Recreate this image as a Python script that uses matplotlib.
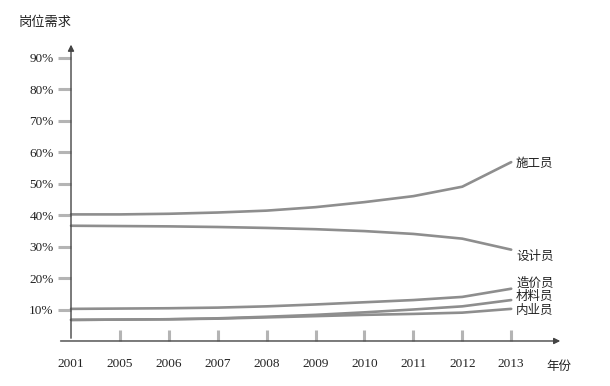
import matplotlib
matplotlib.use('Agg')
import matplotlib.pyplot as plt

# --- DATA ---
years = ['2001', '2005', '2006', '2007', '2008', '2009', '2010', '2011', '2012', '2013']
y_ticks = [10, 20, 30, 40, 50, 60, 70, 80, 90]
y_labels = ['10%', '20%', '30%', '40%', '50%', '60%', '70%', '80%', '90%']

shigong = [40.2, 40.2, 40.4, 40.8, 41.4, 42.5, 44.1, 46.0, 49.0, 56.8]
sheji = [36.6, 36.5, 36.4, 36.2, 35.9, 35.5, 34.9, 34.0, 32.5, 29.0]
zaojia = [10.2, 10.3, 10.4, 10.6, 11.0, 11.6, 12.3, 13.0, 14.0, 16.6]
cailiao = [6.7, 6.8, 6.9, 7.2, 7.7, 8.3, 9.1, 10.0, 11.0, 13.0]
neiye = [6.7, 6.8, 6.9, 7.1, 7.5, 7.9, 8.3, 8.6, 9.0, 10.2]

names = ['施工员', '设计员', '造价员', '材料员', '内业员']
series = [shigong, sheji, zaojia, cailiao, neiye]
label_y = [56.5, 26.7, 18.4, 14.0, 9.8]

CJK = ['Noto Sans CJK SC', 'DejaVu Sans']
SERIF = 'Liberation Serif'

fig = plt.figure(figsize=(6.1, 3.86), dpi=100)
ax = fig.add_axes([0.1164, 0.1166, 0.8066, 0.775])
x = list(range(len(years)))

for s in series:
    ax.plot(x, s, color='#8e8e8e', lw=1.9, solid_capstyle='round', clip_on=False)

for name, ly in zip(names, label_y):
    ax.text(9.1, ly, name, family=CJK, fontsize=9, va='center', ha='left', color='#222222')

ax.set_xlim(0, 10.06)
ax.set_ylim(0, 95)
for sp in ax.spines.values():
    sp.set_visible(False)

# axes with arrows
ax.annotate('', xy=(10.06, 0), xytext=(-0.27, 0), annotation_clip=False,
            arrowprops=dict(arrowstyle='-|>', color='#444444', lw=1, mutation_scale=9))
ax.annotate('', xy=(0, 95), xytext=(0, 0), annotation_clip=False,
            arrowprops=dict(arrowstyle='-|>', color='#444444', lw=1, mutation_scale=9))

ax.set_yticks(y_ticks)
ax.set_yticklabels(y_labels, family=SERIF, fontsize=9.5, color='#222222')
ax.tick_params(axis='y', direction='out', length=9.5, width=2.2, color='#b4b4b4', pad=3)

ax.set_xticks(x)
ax.set_xticklabels(years, family=SERIF, fontsize=9.5, color='#222222')
ax.tick_params(axis='x', direction='in', length=8, width=2.2, color='#b4b4b4', pad=12)
ax.xaxis.get_major_ticks()[0].tick1line.set_visible(False)

ax.text(-1.08, 101, '岗位需求', family=CJK, fontsize=9.5, ha='left', va='center', color='#222222')
ax.text(9.72, -8.2, '年份', family=CJK, fontsize=9, ha='left', va='center', color='#222222')

fig.savefig('out.png', dpi=100)
